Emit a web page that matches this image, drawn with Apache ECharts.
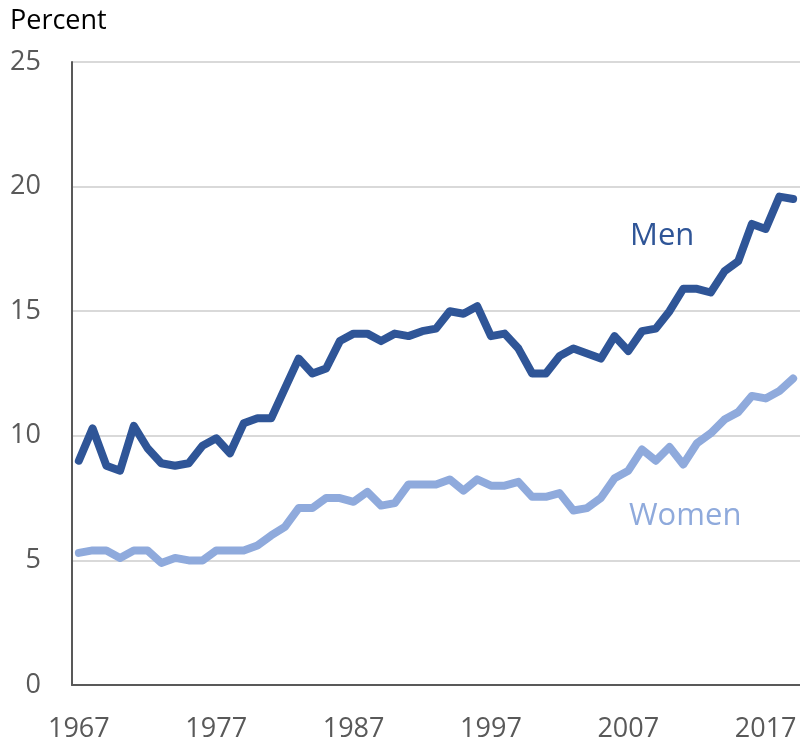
<!DOCTYPE html>
<html>
<head>
<meta charset="utf-8">
<script src="https://cdn.jsdelivr.net/npm/echarts@6/dist/echarts.min.js"></script>
<style>
  html, body { margin: 0; padding: 0; background: #fff; }
  #chart { width: 800px; height: 743px; }
</style>
</head>
<body>
<div id="chart"></div>
<script>
// annual values, 1967-2019
const years = []
for (let y = 1967; y <= 2019; y++) years.push(String(y))

const men = [
  9.0, 10.3, 8.8, 8.6, 10.4, 9.5, 8.9, 8.8, 8.9, 9.6,
  9.9, 9.3, 10.5, 10.7, 10.7, 11.9, 13.1, 12.5, 12.7, 13.8,
  14.1, 14.1, 13.8, 14.1, 14.0, 14.2, 14.3, 15.0, 14.9, 15.2,
  14.0, 14.1, 13.5, 12.5, 12.5, 13.2, 13.5, 13.3, 13.1, 14.0,
  13.4, 14.2, 14.3, 15.0, 15.9, 15.9, 15.75, 16.6, 17.0, 18.5,
  18.3, 19.6, 19.5
]

const women = [
  5.3, 5.4, 5.4, 5.1, 5.4, 5.4, 4.9, 5.1, 5.0, 5.0,
  5.4, 5.4, 5.4, 5.6, 6.0, 6.35, 7.1, 7.1, 7.5, 7.5,
  7.35, 7.75, 7.2, 7.3, 8.05, 8.05, 8.05, 8.25, 7.8, 8.25,
  8.0, 8.0, 8.15, 7.55, 7.55, 7.7, 7.0, 7.1, 7.5, 8.3,
  8.6, 9.45, 9.0, 9.55, 8.85, 9.7, 10.1, 10.65, 10.95, 11.6,
  11.5, 11.8, 12.3
]

const FONT = '"Open Sans", sans-serif'
const MEN_COLOR = '#2F5597'
const WOMEN_COLOR = '#8FAADC'

const chart = echarts.init(document.getElementById('chart'))

chart.setOption({
  animation: false,
  textStyle: { fontFamily: FONT },
  grid: { left: 72, right: 0, top: 62, bottom: 55 },
  graphic: [
    { type: 'text', left: 10, top: 8, style: { text: 'Percent', font: '27px ' + FONT, fill: '#000' } },
    { type: 'text', x: 630, y: 236, style: { text: 'Men', font: '31px ' + FONT, fill: MEN_COLOR, verticalAlign: 'middle' } },
    { type: 'text', x: 629, y: 516, style: { text: 'Women', font: '31px ' + FONT, fill: WOMEN_COLOR, verticalAlign: 'middle' } }
  ],
  xAxis: {
    type: 'category',
    data: years,
    boundaryGap: true,
    axisLine: { lineStyle: { color: '#595959', width: 2 } },
    axisTick: { inside: true, length: 6, interval: 9, lineStyle: { color: '#595959', width: 2 } },
    axisLabel: { interval: 9, color: '#595959', fontSize: 27, fontFamily: FONT, margin: 31 }
  },
  yAxis: {
    type: 'value',
    min: 0,
    max: 25,
    interval: 5,
    axisLine: { show: true, lineStyle: { color: '#595959', width: 2 } },
    axisTick: { show: false },
    axisLabel: { color: '#595959', fontSize: 27, fontFamily: FONT, margin: 31, padding: [0, 0, 6, 0] },
    splitLine: { lineStyle: { color: '#D9D9D9', width: 2 } }
  },
  series: [
    {
      name: 'Men',
      type: 'line',
      data: men,
      showSymbol: false,
      lineStyle: { color: MEN_COLOR, width: 8, join: 'round', cap: 'round' }
    },
    {
      name: 'Women',
      type: 'line',
      data: women,
      showSymbol: false,
      lineStyle: { color: WOMEN_COLOR, width: 8, join: 'round', cap: 'round' }
    }
  ]
})
</script>
</body>
</html>
